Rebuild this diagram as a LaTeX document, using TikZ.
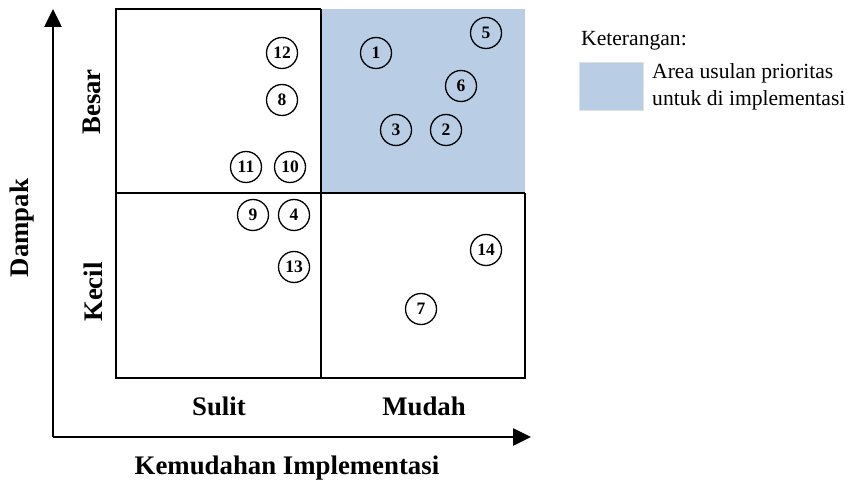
\documentclass[tikz,border=0pt]{standalone}
\usepackage{fontspec}
\setmainfont{Liberation Serif}
\usetikzlibrary{arrows.meta}
\definecolor{prio}{HTML}{B9CDE5}
\tikzset{
  num/.style={circle,draw,line width=1.3pt,minimum size=31pt,inner sep=0pt,font=\fontsize{17.5}{17.5}\selectfont\bfseries},
  bold lbl/.style={font=\fontsize{26.8}{27}\selectfont\bfseries,inner sep=0pt},
  leg/.style={font=\fontsize{21.6}{24}\selectfont,inner sep=0pt,anchor=west},
  grid line/.style={line width=1.4pt},
  axis/.style={line width=2.6pt,-{Triangle[width=17pt,length=18pt]}}
}
\begin{document}
\begin{tikzpicture}[x=1pt,y=-1pt]
\useasboundingbox (0,0) rectangle (851,486);
% priority area
\fill[prio] (321,9) rectangle (525,193);
% grid
\coordinate (tl) at (116,9);
\coordinate (tm) at (321,9);
\coordinate (bl) at (116,378);
\coordinate (bm) at (321,378);
\coordinate (br) at (525,378);
\coordinate (ml) at (116,193);
\coordinate (mr) at (525,193);
\draw[grid line] (tm) -- (tl) -- (bl) -- (br) -- (mr);
\draw[grid line] (tm) -- (bm);
\draw[grid line] (ml) -- (mr);
% axes
\coordinate (o) at (53,437);
\coordinate (ytop) at (53,9);
\coordinate (xend) at (531,437);
\draw[axis] (o) -- (ytop);
\draw[axis] (o) -- (xend);
% axis labels
\node[bold lbl,rotate=90] (besar) at (92,102) {Besar};
\node[bold lbl,rotate=90] (kecil) at (93,292) {Kecil};
\node[bold lbl,rotate=90] (dampak) at (22,228) {Dampak};
\node[bold lbl] (sulit) at (219,406) {Sulit};
\node[bold lbl] (mudah) at (424,406) {Mudah};
\node[bold lbl] (kemud) at (287,468) {Kemudahan Implementasi};
% numbered items
\node[num] (n12) at (282,53) {12};
\node[num] (n8) at (282,100) {8};
\node[num] (n11) at (246,167) {11};
\node[num] (n10) at (290,167) {10};
\node[num] (n9) at (253,215) {9};
\node[num] (n4) at (294,215) {4};
\node[num] (n13) at (294,267) {13};
\node[num] (n1) at (376,53) {1};
\node[num] (n5) at (486,33) {5};
\node[num] (n6) at (461,86) {6};
\node[num] (n3) at (396,130) {3};
\node[num] (n2) at (446,130) {2};
\node[num] (n14) at (486,250) {14};
\node[num] (n7) at (421,309) {7};
% legend
\node[leg] (ket) at (581,41) {Keterangan:};
\fill[prio,draw=black!12,line width=0.6pt] (579,62) rectangle (643,110);
\node[leg] (leg1) at (652,73) {Area usulan prioritas};
\node[leg] (leg2) at (652,100) {untuk di implementasi};
\end{tikzpicture}
\end{document}
